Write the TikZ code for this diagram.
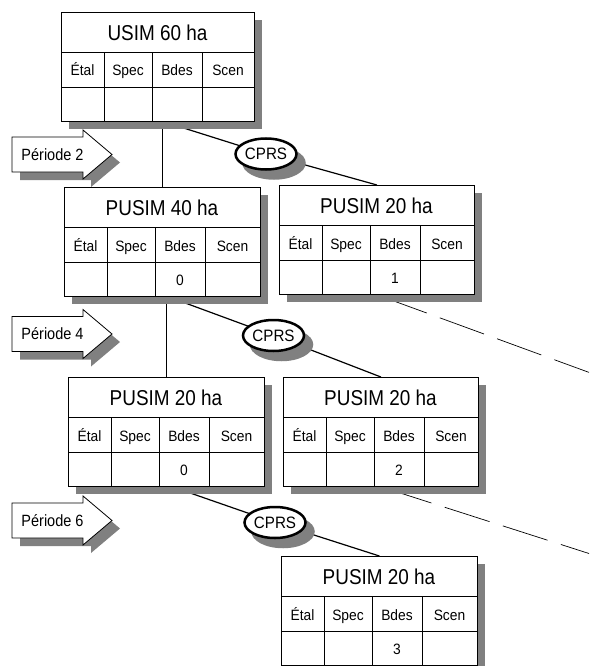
\documentclass[tikz,border=0pt]{standalone}
\usepackage{fontspec}
\setmainfont{Liberation Sans}[FakeStretch=0.92]
\newfontfamily\hdrfont{Liberation Sans}[FakeStretch=0.88]
\newfontfamily\perfont{Liberation Sans}[FakeStretch=0.89]
\usetikzlibrary{shapes.geometric,calc,backgrounds}
\definecolor{shadowgray}{HTML}{808080}
\tikzset{
  boxframe/.style={draw, line width=0.8pt, fill=white, minimum height=109pt, inner sep=0pt, anchor=north west},
  gridline/.style={line width=0.8pt},
  celltext/.style={font=\fontsize{15}{15}\selectfont, inner sep=0pt, anchor=base},
  titletext/.style={font=\hdrfont\fontsize{21.5}{21.5}\selectfont, inner sep=0pt, anchor=base},
  cprs/.style={ellipse, draw, line width=2.5pt, fill=white, minimum width=61pt, minimum height=31pt, inner sep=0pt, font=\fontsize{16.5}{16.5}\selectfont},
  cprsshadow/.style={ellipse, fill=shadowgray, minimum width=63.5pt, minimum height=33.5pt, inner sep=0pt},
  conn/.style={line width=1.2pt},
  dashconn/.style={line width=0.7pt, dash pattern=on 47pt off 14pt, dash phase=55pt},
  arrowshape/.style={draw, line width=0.8pt, fill=white},
  periodtext/.style={font=\perfont\fontsize{16.3}{16.3}\selectfont, inner sep=0pt, anchor=base},
}
% #1 name, #2 x, #3 y, #4 width, #5 title, #6 value
\newcommand\usimbox[6]{%
  \fill[shadowgray] (#2+8,#3+8) rectangle (#2+#4+8,#3+117);
  \node[boxframe, minimum width=#4pt] (#1) at (#2,#3) {};
  \draw[gridline] (#2,#3+40.5) -- (#2+#4,#3+40.5);
  \draw[gridline] (#2,#3+75.5) -- (#2+#4,#3+75.5);
  \foreach \cx in {43,91,141} {\draw[gridline] (#2+\cx,#3+40.5) -- (#2+\cx,#3+109);}
  \node[titletext] (#1-t) at (#2+#4/2,#3+28.5) {#5};
  \node[celltext] (#1-c1) at (#2+21.5,#3+64) {Étal};
  \node[celltext] (#1-c2) at (#2+67,#3+64) {Spec};
  \node[celltext] (#1-c3) at (#2+116,#3+64) {Bdes};
  \node[celltext] (#1-c4) at (#2+70.5+#4/2,#3+64) {Scen};
  \node[celltext] (#1-v) at (#2+116,#3+98) {#6};
}
% #1 name, #2 centre y, #3 text
\newcommand\periodarrow[3]{%
  \fill[shadowgray] (20,#2-9.5) -- (91,#2-9.5) -- (91,#2-16.5) -- (120,#2+8) -- (91,#2+32.5) -- (91,#2+25.5) -- (20,#2+25.5) -- cycle;
  \draw[arrowshape] (12,#2-17.5) -- (83,#2-17.5) -- (83,#2-24.5) -- (112,#2) -- (83,#2+24.5) -- (83,#2+17.5) -- (12,#2+17.5) -- cycle;
  \node[periodtext] (#1) at (52.5,#2+5.9) {#3};
}
\begin{document}
\begin{tikzpicture}[x=1pt,y=-1pt]
\useasboundingbox (0,0) rectangle (589,666);
\usimbox{b1}{61}{12}{193}{USIM 60 ha}{}
\usimbox{b2}{64}{187}{196}{PUSIM 40 ha}{0}
\usimbox{b3}{279}{185}{195}{PUSIM 20 ha}{1}
\usimbox{b4}{68}{377}{196}{PUSIM 20 ha}{0}
\usimbox{b5}{283}{377}{195}{PUSIM 20 ha}{2}
\usimbox{b6}{281}{556}{196}{PUSIM 20 ha}{3}

\periodarrow{p2}{154.5}{Période 2}
\periodarrow{p4}{334}{Période 4}
\periodarrow{p6}{520.5}{Période 6}

\node[cprsshadow] at (274,163) {};
\node[cprs] (e1) at (266,154) {CPRS};
\node[cprsshadow] at (281.5,344.5) {};
\node[cprs] (e2) at (273.5,335.5) {CPRS};
\node[cprsshadow] at (283,531.5) {};
\node[cprs] (e3) at (275,522.5) {CPRS};

\coordinate (d1) at (589,372.4);
\coordinate (d2) at (589,553.5);

\begin{pgfonlayer}{background}
  \draw[conn] (b1.south -| b2.north) -- (b2.north);
  \draw[conn] (b2.south -| b4.north) -- (b4.north);
  \draw[conn] ([xshift=6pt]b1.south) -- (e1.center) -- (b3.north);
  \draw[conn] ([xshift=6pt]b2.south) -- (e2.center) -- (b5.north);
  \draw[conn] ([xshift=6pt]b4.south) -- (e3.center) -- (b6.north);
  \draw[dashconn] (b3.south) -- (d1);
  \draw[dashconn] (b5.south) -- (d2);
\end{pgfonlayer}
\end{tikzpicture}
\end{document}
